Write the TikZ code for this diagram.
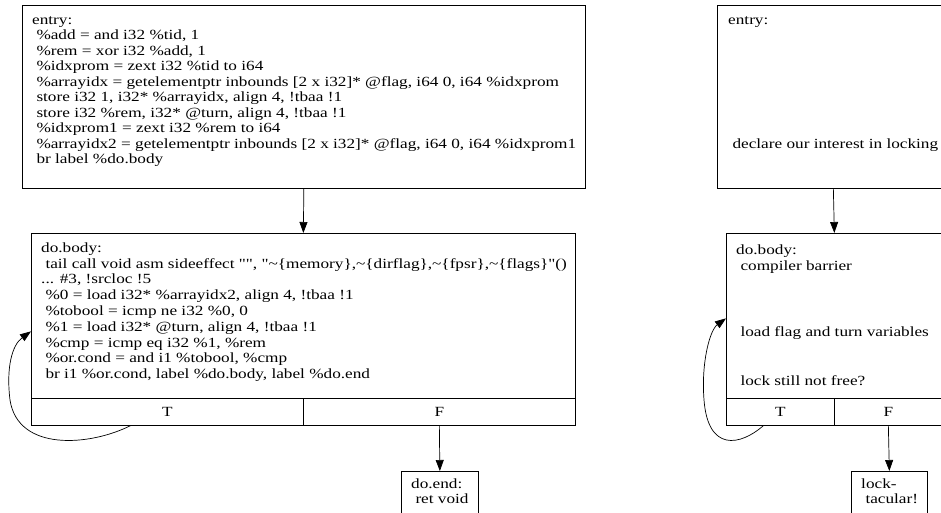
\documentclass[tikz,border=0pt]{standalone}
\usepackage{fontspec}
\setmainfont{Liberation Serif}[FakeStretch=1.23, Ligatures=TeXOff]
\usetikzlibrary{positioning}
\usetikzlibrary{arrows.meta}

\tikzset{
  block/.style={draw, line width=0.7pt, rectangle, inner sep=0pt, anchor=north west},
  code/.style={inner sep=0pt, anchor=north west, align=left, font=\fontsize{14}{15.5}\selectfont},
  cell/.style={inner sep=0pt, font=\fontsize{14}{15.5}\selectfont},
  flow/.style={line width=0.7pt, -{Triangle[length=11pt, width=8pt]}}
}

\begin{document}
\begin{tikzpicture}[x=1pt, y=-1pt]
\useasboundingbox (0,0) rectangle (941,513);
\clip (0,0) rectangle (941,513);

% left graph: IR
\node[block, minimum width=563, minimum height=183] (lentry) at (22,5) {};
\node[code] (lentrytxt) at (32,13) {\strut entry:\\
\ \%add = and i32 \%tid, 1\\
\ \%rem = xor i32 \%add, 1\\
\ \%idxprom = zext i32 \%tid to i64\\
\ \%arrayidx = getelementptr inbounds [2 x i32]* @flag, i64 0, i64 \%idxprom\\
\ store i32 1, i32* \%arrayidx, align 4, !tbaa !1\\
\ store i32 \%rem, i32* @turn, align 4, !tbaa !1\\
\ \%idxprom1 = zext i32 \%rem to i64\\
\ \%arrayidx2 = getelementptr inbounds [2 x i32]* @flag, i64 0, i64 \%idxprom1\\
\ br label \%do.body};

\node[block, minimum width=544, minimum height=165] (lbody) at (31,233) {};
\node[code, font=\fontsize{14}{15.8}\selectfont] (lbodytxt) at (41,241) {\strut do.body:\\
\ tail call void asm sideeffect "", "\textasciitilde\{memory\},\textasciitilde\{dirflag\},\textasciitilde\{fpsr\},\textasciitilde\{flags\}"()\\
... \#3, !srcloc !5\\
\ \%0 = load i32* \%arrayidx2, align 4, !tbaa !1\\
\ \%tobool = icmp ne i32 \%0, 0\\
\ \%1 = load i32* @turn, align 4, !tbaa !1\\
\ \%cmp = icmp eq i32 \%1, \%rem\\
\ \%or.cond = and i1 \%tobool, \%cmp\\
\ br i1 \%or.cond, label \%do.body, label \%do.end};
\node[block, minimum width=272, minimum height=27] (lT) at (31,398) {};
\node[block, minimum width=272, minimum height=27] (lF) at (303,398) {};
\node[cell] (lTtxt) at (lT.center) {T};
\node[cell] (lFtxt) at (lF.center) {F};

\node[block, minimum width=77, minimum height=50] (lend) at (401,471) {};
\node[code] (lendtxt) at (411,477) {\strut do.end:\\ \ ret void};

% edges
\draw[flow] (lentry.south) -- (lbody.north);
\draw[flow] (lF.south) -- (lend.north);
\draw[flow] ([xshift=-37]lT.south) .. controls (90,446) and (18,452) .. (10,400)
  .. controls (6,368) and (12,345) .. ([yshift=-15.5]lbody.west);

% right graph: comments
\node[block, minimum width=232, minimum height=183] (rentry) at (717,5) {};
\node[code] (rentrytxt) at (728,13) {\strut entry:\\ \\ \\ \\ \\ \\ \\ \\
\ declare our interest in locking};

\node[block, minimum width=216, minimum height=165] (rbody) at (726,233) {};
\node[code, font=\fontsize{14}{16.3}\selectfont] (rbodytxt) at (736,243) {\strut do.body:\\
\ compiler barrier\\ \\ \\ \\
\ load flag and turn variables\\ \\ \\
\ lock still not free?};
\node[block, minimum width=108, minimum height=27] (rT) at (726,398) {};
\node[block, minimum width=108, minimum height=27] (rF) at (834,398) {};
\node[cell] (rTtxt) at (rT.center) {T};
\node[cell] (rFtxt) at (rF.center) {F};

\node[block, minimum width=76, minimum height=50] (rlock) at (851,471) {};
\node[code] (rlocktxt) at (861,477) {\strut lock-\\ \ tacular!};

% edges
\draw[flow] (rentry.south) -- (rbody.north);
\draw[flow] (rF.south) -- (rlock.north);
\draw[flow] ([xshift=-17]rT.south) .. controls (740,446) and (708,452) .. (704,400)
  .. controls (701,362) and (710,330) .. ([yshift=-2.5]rbody.west);

\end{tikzpicture}
\end{document}
